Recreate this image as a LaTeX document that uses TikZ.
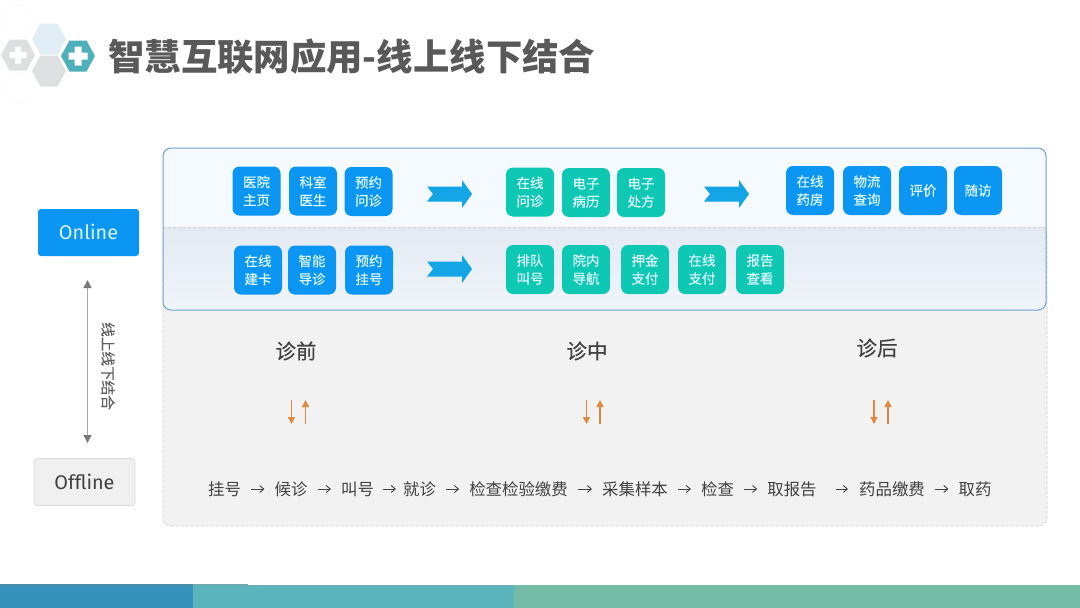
\documentclass[tikz,border=0pt]{standalone}
\usepackage{fontspec}
\setmainfont{Noto Sans CJK SC}
\newfontfamily\latinfont{Fira Sans}
\newfontfamily\chipfont[FakeBold=0.35]{Noto Sans CJK SC}
\usetikzlibrary{arrows.meta}
\definecolor{boxblue}{HTML}{0A96F2}
\definecolor{boxteal}{HTML}{0FC8B4}
\definecolor{boxtext}{HTML}{DDF8FF}
\definecolor{arrowblue}{HTML}{13A5E6}
\definecolor{panelgray}{HTML}{F2F2F2}
\definecolor{dashgray}{HTML}{CFCFCF}
\definecolor{frameblue}{HTML}{6F9FCB}
\definecolor{inktext}{HTML}{404040}
\definecolor{orangearrow}{HTML}{E0883F}
\definecolor{titlegray}{HTML}{595959}
\definecolor{hexteal}{HTML}{4FB0BB}
\definecolor{hexsky}{HTML}{E2EEF6}
\definecolor{hexgray}{HTML}{DEDFE0}
\definecolor{paneltop}{HTML}{F4FAFF}
\definecolor{rowtop}{HTML}{E4EAF2}
\definecolor{rowbot}{HTML}{F0F5FB}
\definecolor{footA}{HTML}{3492BB}
\definecolor{footB}{HTML}{5AB5BD}
\definecolor{footC}{HTML}{74BBA5}
\definecolor{footAline}{HTML}{4B8EA5}
\definecolor{footBline}{HTML}{6FA9AD}
\definecolor{footCline}{HTML}{74AAB5}
\tikzset{
  chip/.style={rounded corners=7pt,minimum width=48pt,minimum height=49pt,inner sep=0pt,
    text=boxtext,align=center,font=\chipfont\fontsize{13.5}{18}\selectfont},
  bluechip/.style={chip,fill=boxblue},
  tealchip/.style={chip,fill=boxteal},
  blockarrow/.style={fill=arrowblue,draw=none},
  stagelabel/.style={text=inktext,inner sep=0pt,font=\chipfont\fontsize{20.5}{24}\selectfont},
  flowitem/.style={text=inktext,inner sep=0pt,font=\fontsize{16.4}{20}\selectfont},
  flowarrow/.style={draw=inktext,line width=0.9pt,-{Straight Barb[length=4pt,width=7pt]},shorten >=10pt,shorten <=10pt},
  updown/.style={draw=orangearrow,line width=1.5pt,-{Triangle[length=7pt,width=7pt]}},
  modebox/.style={rounded corners=3pt,minimum width=101pt,minimum height=47pt,inner sep=0pt,
    font=\latinfont\fontsize{19.8}{24}\selectfont},
  hexa/.pic={\path[pic actions] (-17,0)--(-8.5,-15.5)--(8.5,-15.5)--(17,0)--(8.5,15.5)--(-8.5,15.5)--cycle;},
  plusmark/.pic={\path[fill=white] (-3.5,-9.5) rectangle (3.5,9.5) (-9.5,-3.5) rectangle (9.5,3.5);},
  smallplus/.pic={\path[fill=white] (-3,-8.5) rectangle (3,8.5) (-8.5,-3) rectangle (8.5,3);},
}
\newcommand{\blockarr}[2]{\path[blockarrow] (#1-0,#2-7.5)--(#1+35,#2-7.5)--(#1+35,#2-14)--(#1+45,#2)--(#1+35,#2+14)--(#1+35,#2+7.5)--(#1-0,#2+7.5)--(#1+6,#2)--cycle;}
\begin{document}
\begin{tikzpicture}[x=1pt,y=-1pt]
\useasboundingbox (0,0) rectangle (1080,608);
\fill[white] (0,0) rectangle (1080,608);
% header logo
\pic[draw=black!2,fill=white,line width=0.5pt] at (18,20) {hexa};
\pic[draw=black!2,fill=white,line width=0.5pt] at (18,88) {hexa};
\pic[fill=hexgray] at (18,55) {hexa};
\pic[fill=hexsky] at (49,39) {hexa};
\pic[fill=hexgray] at (49,71) {hexa};
\pic at (18,55) {smallplus};
\pic[fill=hexteal] at (78,56) {hexa};
\pic at (78,56) {plusmark};
\node[inner sep=0pt,anchor=west,text=titlegray,font=\fontsize{36.4}{40}\selectfont\bfseries] (title) at (108,57) {智慧互联网应用-线上线下结合};
% panels
\fill[panelgray,rounded corners=8pt] (163,227) rectangle (1047,526);
\draw[dashgray,densely dashed,line width=0.6pt,rounded corners=8pt] (163,227) rectangle (1047,526);
\fill[paneltop,rounded corners=8pt] (163,148) rectangle (1046,310);
\begin{scope}
\clip[rounded corners=8pt] (163,148) rectangle (1046,310);
\shade[top color=rowtop,bottom color=rowbot] (163,227) rectangle (1046,310);
\end{scope}
\draw[dashgray,densely dashed,line width=0.6pt] (163,227) -- (1046,227);
\draw[frameblue,line width=1pt,rounded corners=8pt] (163,148) rectangle (1046,310);
% row 1
\node[bluechip] (a1) at (256.5,191) {医院\\主页};
\node[bluechip] (a2) at (313,191) {科室\\医生};
\node[bluechip] (a3) at (368.5,191.5) {预约\\问诊};
\node[tealchip] (b1) at (530,192) {在线\\问诊};
\node[tealchip] (b2) at (586,192.5) {电子\\病历};
\node[tealchip] (b3) at (641,192.5) {电子\\处方};
\node[bluechip] (c1) at (810,190.5) {在线\\药房};
\node[bluechip] (c2) at (867,190.5) {物流\\查询};
\node[bluechip] (c3) at (923,190.5) {评价};
\node[bluechip] (c4) at (978,190.5) {随访};
% row 2
\node[bluechip] (d1) at (258,270) {在线\\建卡};
\node[bluechip] (d2) at (312,270) {智能\\导诊};
\node[bluechip] (d3) at (369,270) {预约\\挂号};
\node[tealchip] (e1) at (530,269.5) {排队\\叫号};
\node[tealchip] (e2) at (586,269.5) {院内\\导航};
\node[tealchip] (e3) at (645,269.5) {押金\\支付};
\node[tealchip] (e4) at (702,269.5) {在线\\支付};
\node[tealchip] (e5) at (760,269.5) {报告\\查看};
% block arrows
\blockarr{427}{194}
\blockarr{704}{194}
\blockarr{427}{269}
% mode boxes
\node[modebox,fill=boxblue,text=boxtext] (online) at (88.5,232.5) {\raisebox{1pt}{Online}};
\node[modebox,fill=black!6,draw=black!14,line width=0.7pt,text=inktext] (offline) at (84.5,482) {\raisebox{1pt}{Offline}};
\coordinate (updowntop) at (87.5,280);
\coordinate (updownbot) at (87.5,443);
\draw[draw=black!35,line width=1.4pt,{Triangle[length=8pt,width=8pt,color=black!52]}-{Triangle[length=8pt,width=8pt,color=black!52]}] (updowntop) -- (updownbot);
\node[rotate=-90,text=black!62,inner sep=0pt,font=\chipfont\fontsize{14.6}{16}\selectfont] (combo) at (108,366) {线上线下结合};
% stages
\node[stagelabel] (pre) at (296,351) {诊前};
\node[stagelabel] (mid) at (587,351) {诊中};
\node[stagelabel] (post) at (877,348) {诊后};
\foreach \nm/\xa/\xb in {p/291.5/305.5,m/586.5/600,q/874/888}{
  \coordinate (\nm t1) at (\xa,400);
  \coordinate (\nm b1) at (\xa,424);
  \coordinate (\nm t2) at (\xb,400);
  \coordinate (\nm b2) at (\xb,424);
  \draw[updown] (\nm t1) -- (\nm b1);
  \draw[updown] (\nm b2) -- (\nm t2);
}
% flow
\node[flowitem] (f1) at (224.5,489) {挂号};
\node[flowitem] (f2) at (291,489) {候诊};
\node[flowitem] (f3) at (357.5,489) {叫号};
\node[flowitem] (f4) at (419.5,489) {就诊};
\node[flowitem] (f5) at (518.5,489) {检查检验缴费};
\node[flowitem] (f6) at (635,489) {采集样本};
\node[flowitem] (f7) at (717.5,489) {检查};
\node[flowitem] (f8) at (792,489) {取报告};
\node[flowitem] (f9) at (892,489) {药品缴费};
\node[flowitem] (f10) at (975,489) {取药};
\draw[flowarrow] (f1) -- (f2);
\draw[flowarrow] (f2) -- (f3);
\draw[flowarrow,shorten <=9pt,shorten >=7pt] (f3) -- (f4);
\draw[flowarrow] (f4) -- (f5);
\draw[flowarrow] (f5) -- (f6);
\draw[flowarrow] (f6) -- (f7);
\draw[flowarrow] (f7) -- (f8);
\draw[flowarrow,shorten <=19pt,shorten >=11pt] (f8) -- (f9);
\draw[flowarrow] (f9) -- (f10);
% footer
\fill[footAline] (0,584) rectangle (193,586);
\fill[footBline] (193,584) rectangle (248,586);
\fill[footCline] (248,585) rectangle (514,586);
\fill[footC] (514,585) rectangle (1080,608);
\fill[footA] (0,586) rectangle (193,608);
\fill[footB] (193,586) rectangle (514,608);
\end{tikzpicture}
\end{document}
